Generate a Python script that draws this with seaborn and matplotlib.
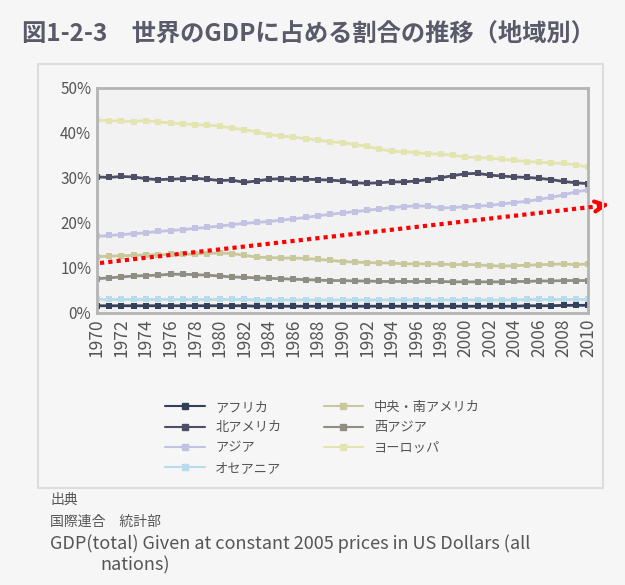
"""
図1-2-3 世界のGDPに占める割合の推移（地域別）の再現。
"""
import matplotlib
matplotlib.use("Agg")
import matplotlib.pyplot as plt
import numpy as np
import pandas as pd
import seaborn as sns
from matplotlib.lines import Line2D
from matplotlib.patches import Rectangle

YEARS = list(range(1970, 2011))

AFRICA = [1.6, 1.6, 1.6, 1.6, 1.6, 1.6, 1.6, 1.6, 1.6, 1.6, 1.6,
          1.6, 1.6, 1.5, 1.5, 1.5, 1.5, 1.5, 1.5, 1.5, 1.5,
          1.5, 1.5, 1.5, 1.5, 1.5, 1.5, 1.5, 1.5, 1.5, 1.5,
          1.5, 1.5, 1.5, 1.5, 1.6, 1.6, 1.6, 1.7, 1.7, 1.7]
N_AMERICA = [30.2, 30.1, 30.3, 30.2, 29.8, 29.6, 29.7, 29.8, 29.9, 29.7, 29.4,
             29.5, 29.0, 29.3, 29.7, 29.8, 29.7, 29.7, 29.6, 29.5, 29.3,
             28.9, 28.8, 28.9, 29.1, 29.1, 29.3, 29.6, 30.0, 30.5, 30.9,
             31.0, 30.6, 30.4, 30.2, 30.1, 29.9, 29.6, 29.2, 28.9, 28.7]
ASIA = [17.0, 17.2, 17.4, 17.6, 17.8, 18.1, 18.3, 18.5, 18.8, 19.0, 19.3,
        19.6, 19.9, 20.1, 20.3, 20.6, 20.9, 21.2, 21.6, 21.9, 22.2,
        22.5, 22.8, 23.1, 23.4, 23.6, 23.8, 23.7, 23.3, 23.4, 23.6,
        23.7, 23.9, 24.2, 24.5, 24.8, 25.2, 25.7, 26.2, 26.9, 27.3]
OCEANIA = [3.0, 3.0, 3.0, 3.0, 3.0, 3.0, 3.0, 3.0, 3.0, 3.0, 3.0,
           3.0, 3.0, 2.9, 2.9, 2.9, 2.9, 2.9, 2.9, 2.9, 2.9,
           2.9, 2.9, 2.9, 2.9, 2.9, 2.9, 2.9, 2.9, 2.9, 2.9,
           2.9, 2.9, 2.9, 2.9, 3.0, 3.0, 3.0, 3.0, 3.0, 3.0]
LATIN_AMERICA = [12.5, 12.6, 12.7, 12.8, 12.9, 12.9, 13.0, 13.0, 13.1, 13.2, 13.3,
                 13.2, 12.8, 12.4, 12.3, 12.2, 12.2, 12.1, 11.9, 11.7, 11.4,
                 11.3, 11.2, 11.1, 11.1, 10.9, 10.9, 10.9, 10.9, 10.7, 10.8,
                 10.7, 10.5, 10.4, 10.5, 10.6, 10.7, 10.8, 10.9, 10.7, 10.9]
W_ASIA = [7.6, 7.8, 8.0, 8.2, 8.3, 8.4, 8.6, 8.6, 8.5, 8.4, 8.2,
          8.0, 7.9, 7.8, 7.7, 7.6, 7.5, 7.4, 7.3, 7.2, 7.2,
          7.1, 7.1, 7.0, 7.0, 7.0, 7.0, 7.0, 7.0, 6.9, 6.9,
          6.9, 6.9, 6.9, 7.0, 7.0, 7.1, 7.1, 7.2, 7.2, 7.2]
EUROPE = [42.8, 42.7, 42.6, 42.5, 42.7, 42.4, 42.2, 42.0, 41.8, 41.7, 41.5,
          41.0, 40.7, 40.2, 39.6, 39.3, 39.0, 38.7, 38.4, 38.0, 37.8,
          37.4, 37.0, 36.4, 35.9, 35.8, 35.6, 35.3, 35.3, 35.0, 34.6,
          34.5, 34.4, 34.1, 33.9, 33.6, 33.5, 33.3, 33.2, 32.9, 32.4]

REGIONS = ["アフリカ", "北アメリカ", "アジア", "オセアニア",
           "中央・南アメリカ", "西アジア", "ヨーロッパ"]
SERIES = [AFRICA, N_AMERICA, ASIA, OCEANIA, LATIN_AMERICA, W_ASIA, EUROPE]
COLORS = ["#34405a", "#4e4e66", "#c2c2e2", "#b8dcea",
          "#c8c89c", "#8e8e84", "#e4e4b0"]

sns.set_theme(style="white")
plt.rcParams["font.family"] = ["Noto Sans CJK JP", "DejaVu Sans"]

df = pd.DataFrame(
    [(y, r, v) for r, vals in zip(REGIONS, SERIES) for y, v in zip(YEARS, vals)],
    columns=["year", "region", "share"],
)

fig = plt.figure(figsize=(6.25, 5.85), dpi=100, facecolor="#f6f6f6")
ax = fig.add_axes([0.155, 0.465, 0.786, 0.385])
ax.set_facecolor("#f2f2f2")

palette = dict(zip(REGIONS, COLORS))
sns.lineplot(data=df, x="year", y="share", hue="region", hue_order=REGIONS,
             palette=palette, marker="s", markersize=4, markeredgewidth=0,
             linewidth=2, legend=False, ax=ax)

ax.set_xlim(YEARS[0], YEARS[-1])
ax.set_ylim(0, 50)
ax.set_yticks(range(0, 51, 10))
ax.set_yticklabels([f"{v}%" for v in range(0, 51, 10)], fontsize=11,
                   color="#555555")
ax.set_xticks(YEARS[::2])
ax.set_xticklabels([str(y) for y in YEARS[::2]], rotation=90, fontsize=12.5,
                   color="#555555")
ax.set_xlabel("")
ax.set_ylabel("")
ax.tick_params(length=0, pad=4)
for sp in ax.spines.values():
    sp.set_color("#b4b4b4")
    sp.set_linewidth(2)

# legend
handles = [Line2D([0], [0], color=c, marker="s", markersize=4, linewidth=1.5,
                  label=r) for r, c in zip(REGIONS, COLORS)]
fig.legend(handles=handles, loc="upper left", bbox_to_anchor=(0.245, 0.335),
           ncol=2, frameon=False, fontsize=9.5, handlelength=3,
           columnspacing=3.2, labelspacing=0.55, labelcolor="#555555")

# outer frame
fig.add_artist(Rectangle((0.06, 0.165), 0.905, 0.725, transform=fig.transFigure,
                         fill=False, edgecolor="#dddddd", linewidth=1.5))

# title
fig.text(0.035, 0.942, "図1-2-3　世界のGDPに占める割合の推移（地域別）",
         fontsize=17.5, fontweight="bold", color="#5a5a6a", va="center")

# footer
fig.text(0.08, 0.145, "出典", fontsize=10, color="#555555", va="center")
fig.text(0.08, 0.108, "国際連合　統計部", fontsize=10, color="#555555", va="center")
fig.text(0.08, 0.071,
         "GDP(total) Given at constant 2005 prices in US Dollars (all",
         fontsize=13, color="#555555", va="center")
fig.text(0.16, 0.034, "nations)", fontsize=13, color="#555555", va="center")

# red dotted arrow
fig.add_artist(Line2D([100 / 625, 600 / 625], [1 - 263 / 585, 1 - 206 / 585],
                      transform=fig.transFigure, color="red", linewidth=3,
                      linestyle=(0, (1, 1))))
ax.annotate("", xy=(612, 585 - 204), xytext=(598, 585 - 206),
            xycoords="figure pixels", textcoords="figure pixels",
            arrowprops=dict(arrowstyle="->", color="red", lw=3,
                            mutation_scale=18))

fig.savefig("out.png", dpi=100, facecolor=fig.get_facecolor())
